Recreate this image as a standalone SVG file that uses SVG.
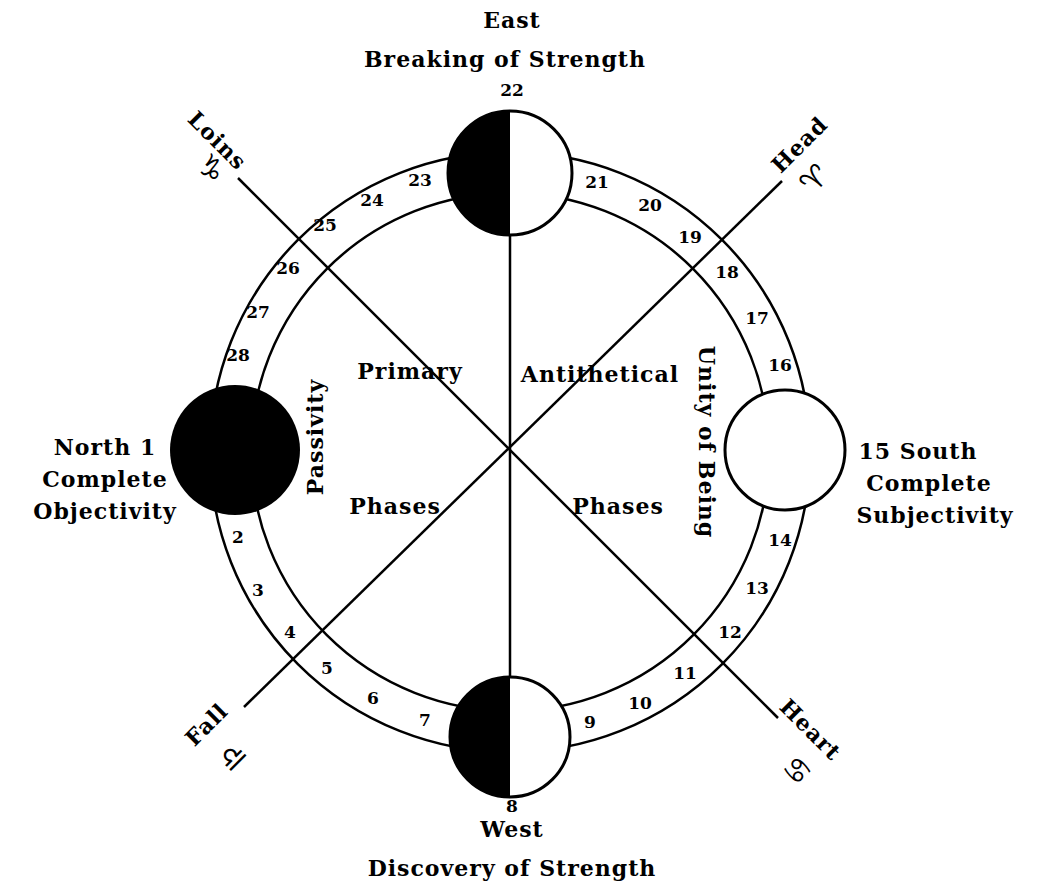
<svg xmlns="http://www.w3.org/2000/svg" width="1044" height="895" viewBox="0 0 1044 895">
<style>
text{font-family:"DejaVu Serif","Liberation Serif",serif;font-size:22px;font-weight:bold;letter-spacing:1px;fill:#000;text-anchor:middle}
.n{font-size:17px;letter-spacing:0}
.sym{font-family:"DejaVu Sans",sans-serif;font-size:30px;font-weight:normal}
.ln{stroke:#000;stroke-width:2.5;fill:none}
</style>
<rect width="1044" height="895" fill="#fff"/>
<g id="connectors">
<circle class="ln" cx="510" cy="452" r="300"/>
<circle class="ln" cx="510" cy="452" r="259"/>
<line class="ln" x1="510" y1="236" x2="510" y2="678"/>
<line class="ln" x1="238" y1="178" x2="778" y2="718"/>
<line class="ln" x1="782" y1="181" x2="244" y2="707"/>
</g>
<g id="east-moon"><circle cx="510" cy="173" r="62" fill="#fff" stroke="#000" stroke-width="3"/><path d="M510 111 A62 62 0 0 0 510 235 Z" fill="#000"/></g>
<g id="west-moon"><circle cx="510" cy="737" r="60" fill="#fff" stroke="#000" stroke-width="3"/><path d="M510 677 A60 60 0 0 0 510 797 Z" fill="#000"/></g>
<g id="north"><circle cx="235" cy="450" r="65" fill="#000"/></g>
<g id="south"><circle cx="785" cy="450" r="60" fill="#fff" stroke="#000" stroke-width="3"/></g>
<g id="numbers">
<text class="n" x="512" y="96">22</text><text class="n" x="512" y="812">8</text>
<text class="n" x="238" y="543">2</text><text class="n" x="258" y="596">3</text><text class="n" x="290" y="638">4</text><text class="n" x="327" y="674">5</text><text class="n" x="373" y="704">6</text><text class="n" x="425" y="726">7</text>
<text class="n" x="590" y="728">9</text><text class="n" x="640" y="709">10</text><text class="n" x="685" y="679">11</text><text class="n" x="730" y="638">12</text><text class="n" x="757" y="594">13</text><text class="n" x="780" y="546">14</text>
<text class="n" x="780" y="371">16</text><text class="n" x="757" y="324">17</text><text class="n" x="727" y="278">18</text><text class="n" x="690" y="243">19</text><text class="n" x="650" y="211">20</text><text class="n" x="597" y="188">21</text>
<text class="n" x="420" y="186">23</text><text class="n" x="372" y="206">24</text><text class="n" x="325" y="231">25</text><text class="n" x="288" y="274">26</text><text class="n" x="258" y="318">27</text><text class="n" x="238" y="361">28</text>
</g>
<g id="labels">
<text x="512" y="28">East</text>
<text x="505" y="67">Breaking of Strength</text>
<text x="512" y="837">West</text>
<text x="512" y="876">Discovery of Strength</text>
<text x="105" y="455">North 1</text>
<text x="105" y="487">Complete</text>
<text x="105" y="519">Objectivity</text>
<text x="918" y="459">15 South</text>
<text x="929" y="491">Complete</text>
<text x="935" y="523">Subjectivity</text>
<text x="410" y="379">Primary</text>
<text x="600" y="382">Antithetical</text>
<text x="395" y="514">Phases</text>
<text x="618" y="514">Phases</text>
<text transform="translate(323,437) rotate(-90)">Passivity</text>
<text transform="translate(699,442) rotate(90)">Unity of Being</text>
<text transform="translate(212,146) rotate(45)">Loins</text>
<text class="sym" transform="translate(204,176) rotate(45)">♑</text>
<text transform="translate(805,150) rotate(-45)">Head</text>
<text class="sym" transform="translate(822,186) rotate(-45)">♈</text>
<text transform="translate(212,730) rotate(-45)">Fall</text>
<text class="sym" transform="translate(240,764) rotate(-45)">♎</text>
<text transform="translate(805,735) rotate(45)">Heart</text>
<text class="sym" transform="translate(790,778) rotate(45)">♋</text>
</g>
</svg>
